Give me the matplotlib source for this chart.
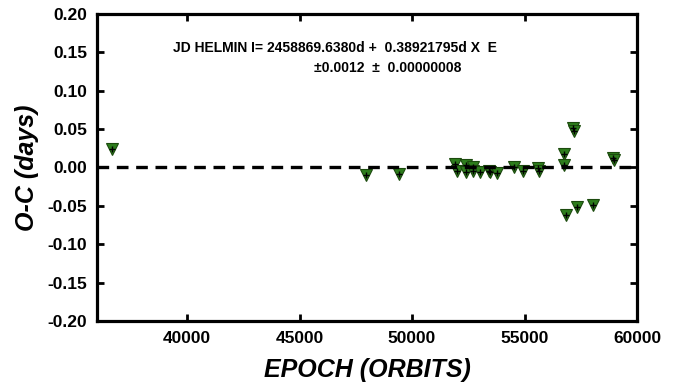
import matplotlib
matplotlib.use("Agg")
import matplotlib.pyplot as plt

plt.rcParams['font.family'] = ['Liberation Sans', 'DejaVu Sans']

epoch = [36650, 47940, 49420, 51930, 52010, 52400, 52400, 52720, 52720, 53020,
         53430, 53450, 53790, 54530, 54950, 55610, 55660, 56770, 56760, 57140,
         57200, 56840, 57320, 58060, 58950, 58990]
oc = [0.024, -0.010, -0.009, 0.005, -0.005, 0.003, -0.006, 0.001, -0.005, -0.0055,
      -0.004, -0.006, -0.007, 0.001, -0.005, -0.001, -0.005, 0.017, 0.003, 0.051,
      0.048, -0.062, -0.051, -0.049, 0.013, 0.010]

xticks = [40000, 45000, 50000, 55000, 60000]
yticks = [-0.20, -0.15, -0.10, -0.05, 0.00, 0.05, 0.10, 0.15, 0.20]
line1 = "JD HELMIN I= 2458869.6380d +  0.38921795d X  E"
line2 = "\u00b10.0012  \u00b1  0.00000008"

fig = plt.figure(figsize=(6.8, 3.86), dpi=100)
ax = fig.add_axes([97/680, 65/386, 540/680, 307/386])

ax.plot(epoch, oc, linestyle='none', marker='v', markersize=9,
        markerfacecolor='#2d7d1c', markeredgecolor='#1c4a0e', markeredgewidth=0.8, zorder=3)
ax.plot(epoch, oc, linestyle='none', marker='+', markersize=5,
        color='black', markeredgewidth=1.0, zorder=4)
ax.axhline(0, color='black', lw=2.4, dashes=(3.5, 2.3), zorder=5)

ax.set_xlim(36000, 60000)
ax.set_ylim(-0.2, 0.2)
ax.set_xticks(xticks)
ax.set_yticks(yticks)
ax.set_xticklabels([str(v) for v in xticks])
ax.set_yticklabels(['%.2f' % v for v in yticks])
for s in ax.spines.values():
    s.set_linewidth(2.3)
ax.tick_params(direction='in', length=5, width=2, top=True, right=True,
               labelsize=12.5, pad=7)
for lab in ax.get_xticklabels() + ax.get_yticklabels():
    lab.set_fontweight('bold')

ax.set_xlabel('EPOCH (ORBITS)', fontsize=18, fontweight='bold', fontstyle='italic', labelpad=9)
ax.set_ylabel('O-C (days)', fontsize=18, fontweight='bold', fontstyle='italic', labelpad=6)

fig.text(173/680, 1 - 48/386, line1, fontsize=10, fontweight='bold', ha='left', va='center')
fig.text(314/680, 1 - 68/386, line2, fontsize=10, fontweight='bold', ha='left', va='center')

fig.savefig('out.png', dpi=100)
